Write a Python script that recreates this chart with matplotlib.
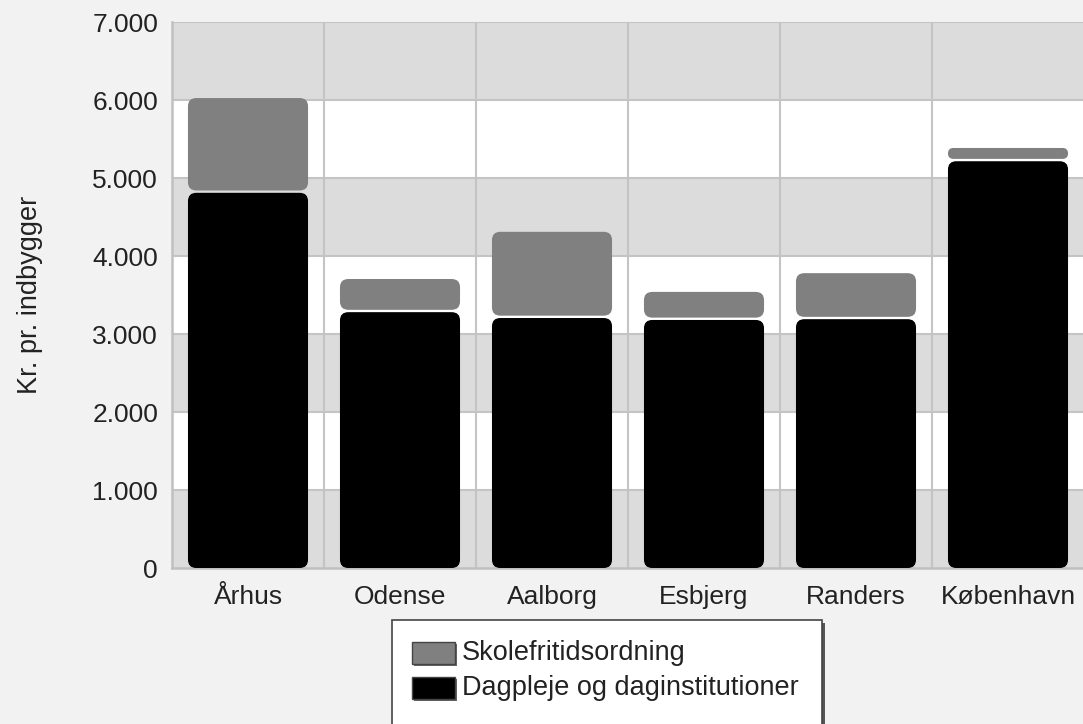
import matplotlib.pyplot as plt
from matplotlib.patches import FancyBboxPatch, Rectangle
import numpy as np

plt.rcParams['font.family'] = ['Liberation Sans', 'DejaVu Sans']

cities = ['Århus', 'Odense', 'Aalborg', 'Esbjerg', 'Randers', 'København']
dagpleje = [4810, 3280, 3205, 3180, 3190, 5215]
sfo = [1215, 425, 1105, 360, 590, 170]
series_names = ['Skolefritidsordning', 'Dagpleje og daginstitutioner']
yticks = [0, 1000, 2000, 3000, 4000, 5000, 6000, 7000]
ytick_labels = ['0', '1.000', '2.000', '3.000', '4.000', '5.000', '6.000', '7.000']

W, H = 1083, 724
fig = plt.figure(figsize=(W / 100, H / 100), dpi=100)
fig.patch.set_facecolor('#f2f2f2')
ax = fig.add_axes([172 / W, 1 - 568 / H, 912 / W, 546 / H])
ax.set_facecolor('white')

# alternating bands
for i in range(len(yticks) - 1):
    if i % 2 == 0:
        ax.axhspan(yticks[i], yticks[i + 1], color='#dcdcdc', zorder=0, lw=0)
ax.set_ylim(0, 7000)
ax.set_xlim(-0.5, len(cities) - 0.5)

for y in yticks[1:]:
    ax.axhline(y, color='#c4c4c4', lw=1.5, zorder=1)
for x in np.arange(0.5, len(cities) - 0.5, 1):
    ax.axvline(x, color='#c4c4c4', lw=1.5, zorder=1)

x = np.arange(len(cities))
b1 = ax.bar(x, dagpleje, width=0.79, color='black')
b2 = ax.bar(x, sfo, width=0.79, bottom=dagpleje, color='#808080')

# rounded versions of the bars
aspect = (7000 / 546) / (6 / 912)
gap = 30
for bars, col in [(b1, 'black'), (b2, '#808080')]:
    for p in bars:
        x0, y0 = p.get_x(), p.get_y()
        w, h = p.get_width(), p.get_height()
        if col == '#808080':
            y0 += gap
            h -= gap
        p.remove()
        r = min(0.055, h / aspect / 2)
        fb = FancyBboxPatch((x0, y0), w, h,
                            boxstyle='round,pad=0,rounding_size=%f' % r,
                            mutation_aspect=aspect, fc=col, ec='none', zorder=3)
        ax.add_patch(fb)

ax.set_yticks(yticks)
ax.set_yticklabels(ytick_labels, fontsize=19, color='#222222')
ax.set_xticks(x)
ax.set_xticklabels(cities, fontsize=19, color='#222222')
ax.tick_params(length=0, pad=10)
ax.tick_params(axis='x', pad=12)
for s in ['top', 'right']:
    ax.spines[s].set_visible(False)
for s in ['left', 'bottom']:
    ax.spines[s].set_color('#c0c0c0')
    ax.spines[s].set_linewidth(1.8)

fig.text(30 / W, 1 - 295 / H, 'Kr. pr. indbygger', rotation=90, fontsize=19.5,
         ha='center', va='center', color='#222222')

# legend box
shadow = Rectangle((395 / W, -0.05), 430 / W, 1 - 620 / H + 0.05 - 3 / H,
                   transform=fig.transFigure, fc='#555555', ec='none', zorder=1)
box = Rectangle((392 / W, -0.05), 430 / W, 1 - 620 / H + 0.05,
                transform=fig.transFigure, fc='white', ec='#444444', lw=1.2, zorder=2)
fig.patches.extend([shadow, box])
for i, (name, col) in enumerate(zip(series_names, ['#808080', 'black'])):
    yc = 653 + i * 35
    sh = Rectangle((414 / W, 1 - (yc + 13) / H), 43 / W, 22 / H, transform=fig.transFigure,
                   fc='#666666', ec='none', zorder=3)
    hp = Rectangle((412 / W, 1 - (yc + 11) / H), 43 / W, 22 / H, transform=fig.transFigure,
                   fc=col, ec='#444444', lw=1, zorder=4)
    fig.patches.extend([sh, hp])
    fig.text(462 / W, 1 - yc / H, name, fontsize=19.5, va='center', ha='left',
             color='#222222', zorder=5)

fig.savefig('out.png', dpi=100, facecolor=fig.get_facecolor())
